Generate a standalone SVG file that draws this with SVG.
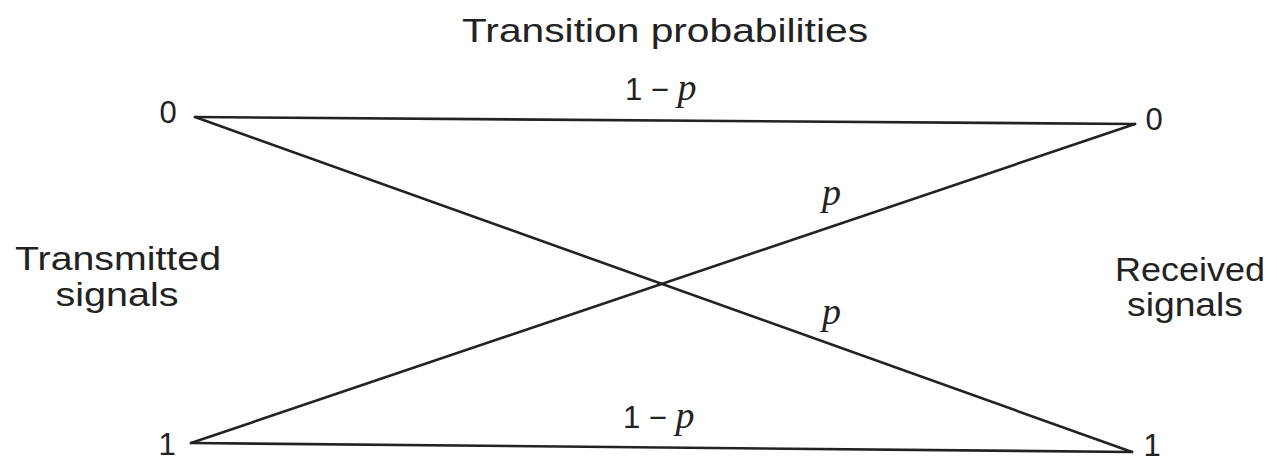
<svg xmlns="http://www.w3.org/2000/svg" width="1277" height="463" viewBox="0 0 1277 463">
<style>
.lbl{font-family:"Liberation Sans",Arial,sans-serif;font-size:33px;fill:#222}
.num{font-family:"Liberation Sans",Arial,sans-serif;font-size:31px;fill:#222}
.pp{font-family:"Liberation Serif","Times New Roman",serif;font-style:italic;font-size:38px;fill:#222}
.edge{stroke:#222;stroke-width:2.6;fill:none;stroke-linecap:round}
</style>
<rect width="1277" height="463" fill="#fff"/>
<g id="title"><text class="lbl" x="462" y="42" font-size="35" textLength="406" lengthAdjust="spacingAndGlyphs">Transition probabilities</text></g>
<g id="connectors">
<line class="edge" x1="195" y1="117" x2="1135" y2="124"/>
<line class="edge" x1="195" y1="117" x2="1132" y2="452"/>
<line class="edge" x1="191" y1="443" x2="1135" y2="124"/>
<line class="edge" x1="191" y1="443" x2="1132" y2="452"/>
</g>
<g id="tx0"><text class="num" x="168" y="123" text-anchor="middle">0</text></g>
<g id="tx1"><text class="num" x="167" y="455" text-anchor="middle">1</text></g>
<g id="rx0"><text class="num" x="1154" y="130" text-anchor="middle">0</text></g>
<g id="rx1"><text class="num" x="1152" y="456" text-anchor="middle">1</text></g>
<g id="label-top"><text class="num" x="625" y="100" font-size="35">1 <tspan>−</tspan> <tspan class="pp">p</tspan></text></g>
<g id="label-bottom"><text class="num" x="623" y="428" font-size="35">1 <tspan>−</tspan> <tspan class="pp">p</tspan></text></g>
<g id="label-p1"><text class="pp" x="822" y="205">p</text></g>
<g id="label-p2"><text class="pp" x="822" y="324">p</text></g>
<g id="transmitted">
<text class="lbl" x="118" y="270" text-anchor="middle" textLength="206" lengthAdjust="spacingAndGlyphs">Transmitted</text>
<text class="lbl" x="117" y="306" text-anchor="middle" textLength="123" lengthAdjust="spacingAndGlyphs">signals</text>
</g>
<g id="received">
<text class="lbl" x="1190" y="281" text-anchor="middle" textLength="150" lengthAdjust="spacingAndGlyphs">Received</text>
<text class="lbl" x="1185" y="316" text-anchor="middle" textLength="116" lengthAdjust="spacingAndGlyphs">signals</text>
</g>
</svg>
